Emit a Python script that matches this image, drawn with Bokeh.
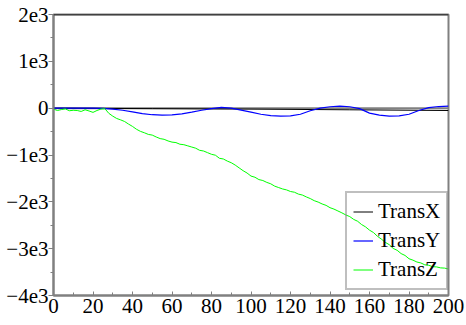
from bokeh.plotting import figure
from bokeh.models import Legend, LegendItem, Span, FixedTicker, Range1d
from bokeh.embed import file_html
from bokeh.resources import INLINE

# ---- data ----
x_x = [0, 50, 100, 150, 200]
trans_x = [0, -10, -20, -35, -50]

x_y = [0, 5, 10, 15, 20, 25, 30, 35, 40, 45, 50, 55, 60, 65, 70, 75, 80, 85, 90, 95,
       100, 105, 110, 115, 120, 125, 130, 135, 140, 145, 150, 155, 160, 165, 170, 175,
       180, 185, 190, 195, 200]
trans_y = [0, 0, 0, 0, 0, -5, -20, -45, -80, -115, -140, -150, -145, -120, -85, -45,
           -10, 15, 0, -40, -85, -130, -160, -172, -165, -130, -55, 0, 30, 45, 30, -10,
           -105, -150, -170, -165, -130, -50, 10, 35, 45]

x_z = [0, 2, 4, 6, 8, 10, 12, 14, 16, 18, 20, 22, 24, 26, 28, 30, 32, 34, 36, 38,
       40, 42, 44, 46, 48, 50, 52, 54, 56, 58, 60, 62, 64, 66, 68, 70, 72, 74, 76, 78,
       80, 82, 84, 86, 88, 90, 92, 94, 96, 98, 100, 102, 104, 106, 108, 110, 112, 114,
       116, 118, 120, 122, 124, 126, 128, 130, 132, 134, 136, 138, 140, 142, 144, 146,
       148, 150, 152, 154, 156, 158, 160, 162, 164, 166, 168, 170, 172, 174, 176, 178,
       180, 182, 184, 186, 188, 190, 192, 194, 196, 198, 200]
trans_z = [-20, -50, -30, -15, -55, -45, -50, -70, -35, -60, -90, -50, -20, -10, -110,
           -170, -220, -250, -285, -340, -390, -450, -495, -525, -560, -575, -615, -650,
           -665, -700, -725, -735, -770, -780, -805, -830, -855, -900, -915, -950, -985,
           -1005, -1070, -1085, -1130, -1165, -1215, -1275, -1335, -1385, -1450, -1475,
           -1525, -1545, -1585, -1615, -1665, -1695, -1725, -1745, -1780, -1795, -1835,
           -1855, -1895, -1930, -1975, -2005, -2045, -2075, -2125, -2155, -2195, -2235,
           -2280, -2315, -2375, -2415, -2485, -2535, -2605, -2655, -2735, -2795, -2865,
           -2915, -2995, -3035, -3105, -3145, -3215, -3245, -3285, -3305, -3345, -3355,
           -3385, -3390, -3410, -3415, -3435]

y_ticks = [2000, 1000, 0, -1000, -2000, -3000, -4000]
y_tick_labels = ["2e3", "1e3", "0", "\u22121e3", "\u22122e3", "\u22123e3", "\u22124e3"]
x_ticks = [0, 20, 40, 60, 80, 100, 120, 140, 160, 180, 200]

FONT = "Liberation Serif"
AXIS_FONT = "Times New Roman"
GRAY = "#808080"

p = figure(width=466, height=325, output_backend="svg", toolbar_location=None,
           x_range=Range1d(0, 200), y_range=Range1d(-4000, 2000),
           min_border_left=53, min_border_right=18, min_border_top=14, min_border_bottom=30)
p.background_fill_color = "white"
p.border_fill_color = "white"
p.grid.visible = False
p.outline_line_color = GRAY
p.outline_line_width = 2

# zero line and top border
p.add_layout(Span(location=0, dimension="width", line_color=GRAY, line_width=2, level="underlay"))
p.add_layout(Span(location=2000, dimension="width", line_color="black", line_width=1.5))

rx = p.line(x_x, trans_x, line_color="black", line_width=1)
ry = p.line(x_y, trans_y, line_color="#0000ff", line_width=1.2)
rz = p.line(x_z, trans_z, line_color="#00ff00", line_width=1)

# axes
for ax in p.yaxis:
    ax.ticker = FixedTicker(ticks=y_ticks, minor_ticks=[v + 500 for v in y_ticks[1:]])
    ax.major_label_overrides = dict(zip(y_ticks, y_tick_labels))
    ax.axis_line_color = GRAY
    ax.axis_line_width = 2
    ax.major_tick_line_color = GRAY
    ax.minor_tick_line_color = GRAY
    ax.major_tick_in = 0
    ax.major_tick_out = 5
    ax.minor_tick_in = 0
    ax.minor_tick_out = 3
    ax.major_label_standoff = 0
    ax.major_label_text_font = AXIS_FONT
    ax.major_label_text_font_style = "normal"
    ax.major_label_text_font_size = "21px"
    ax.major_label_text_color = "black"

for ax in p.xaxis:
    ax.ticker = FixedTicker(ticks=x_ticks, minor_ticks=[v + 10 for v in x_ticks[:-1]])
    ax.axis_line_color = GRAY
    ax.axis_line_width = 2
    ax.major_tick_line_color = GRAY
    ax.minor_tick_line_color = GRAY
    ax.major_tick_in = 4
    ax.major_tick_out = 0
    ax.minor_tick_in = 3
    ax.minor_tick_out = 0
    ax.major_label_standoff = 3
    ax.major_label_text_font = AXIS_FONT
    ax.major_label_text_font_style = "normal"
    ax.major_label_text_font_size = "21px"
    ax.major_label_text_color = "black"

legend = Legend(items=[LegendItem(label="TransX", renderers=[rx]),
                       LegendItem(label="TransY", renderers=[ry]),
                       LegendItem(label="TransZ", renderers=[rz])],
                location=(292, 5))
legend.label_text_font = FONT
legend.label_text_font_size = "21px"
legend.label_text_color = "black"
legend.border_line_color = GRAY
legend.border_line_width = 2
legend.background_fill_alpha = 0
legend.padding = 6
legend.margin = 0
legend.spacing = 4
legend.label_height = 25
legend.glyph_height = 25
legend.glyph_width = 20
legend.label_standoff = 5
p.add_layout(legend, "center")

open("out.html", "w").write(file_html(p, INLINE))
